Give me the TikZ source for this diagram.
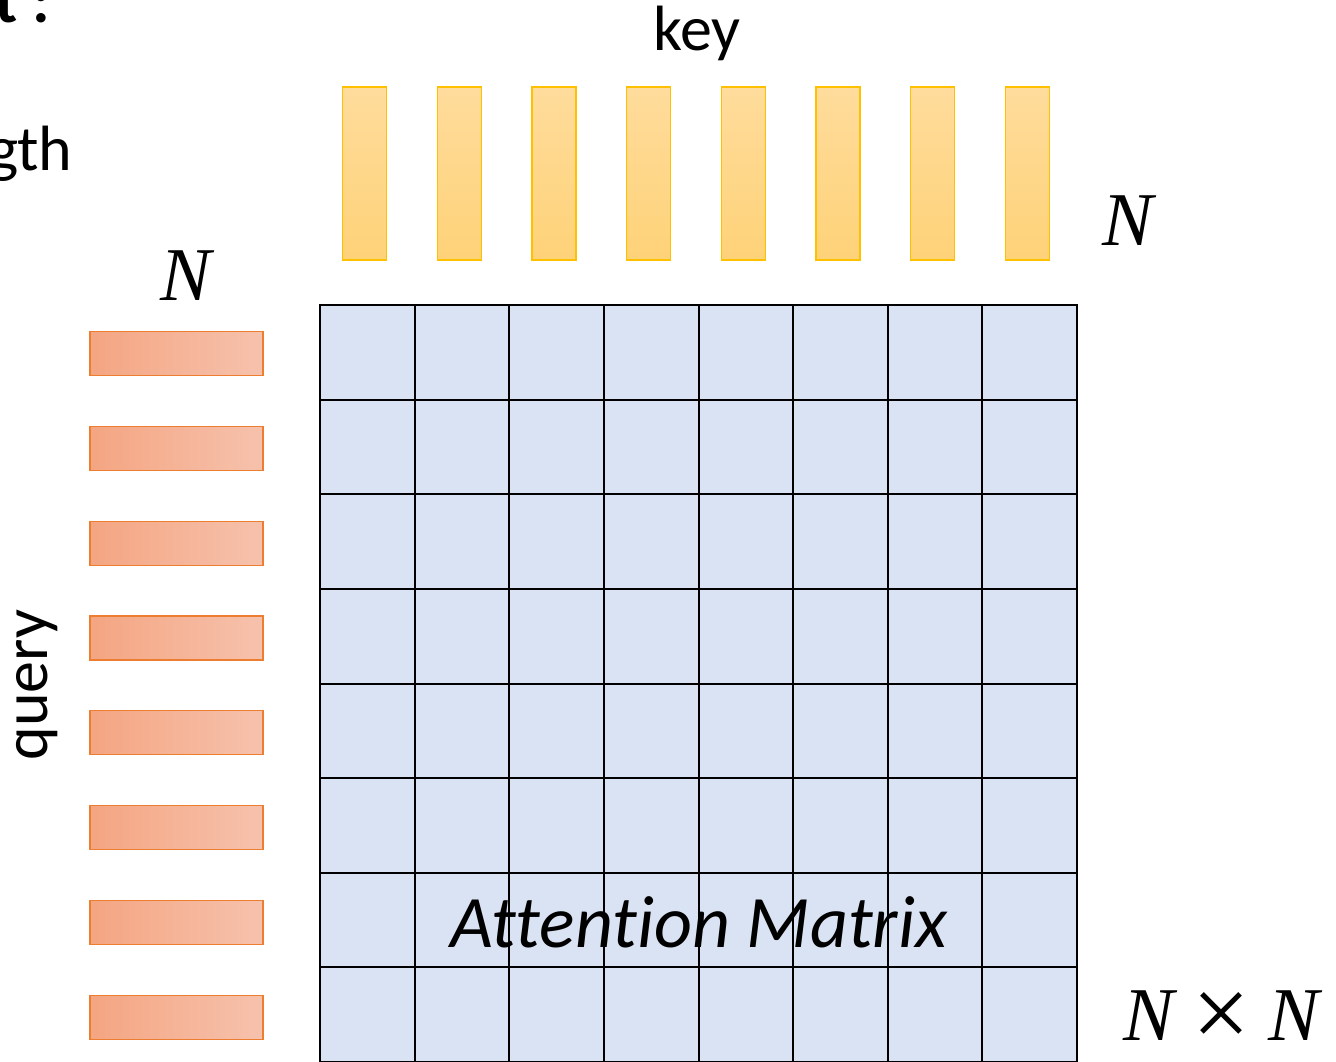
\documentclass[tikz,border=0pt]{standalone}
\usepackage{fontspec}
\setmainfont{Carlito}[Ligatures=NoCommon]
\newfontfamily\dimfont{Liberation Serif}
\newfontfamily\timesfont{Liberation Serif}[Scale=1.35]
\usetikzlibrary{positioning}

\definecolor{keyline}{RGB}{255,192,0}
\definecolor{keytop}{RGB}{255,220,156}
\definecolor{keybot}{RGB}{254,210,120}
\definecolor{qryline}{RGB}{237,125,49}
\definecolor{qryleft}{RGB}{244,165,130}
\definecolor{qryright}{RGB}{246,194,173}
\definecolor{cellblue}{RGB}{218,227,243}

\begin{document}
\begin{tikzpicture}[x=0.5pt,y=-0.5pt,
   keybar/.style={draw=keyline,line width=0.6pt,top color=keytop,bottom color=keybot,
                  minimum width=22pt,minimum height=86.5pt,inner sep=0pt},
   qrybar/.style={draw=qryline,line width=0.6pt,left color=qryleft,right color=qryright,
                  minimum width=86.5pt,minimum height=22pt,inner sep=0pt},
   lbl/.style={inner sep=0pt,font=\fontsize{32}{36}\selectfont},
   dim/.style={inner sep=0pt,font=\dimfont\itshape\fontsize{38}{40}\selectfont},
   gridline/.style={line width=1pt,black}
  ]
  \useasboundingbox (0,0) rectangle (1336,1061);

  % cut-off words at the left edge
  \node[lbl,anchor=base east,font=\bfseries\fontsize{32}{36}\selectfont] (inp) at (50,22) {Input :};
  \node[lbl,anchor=base east] (len) at (73,170) {length};

  % keys along the top
  \foreach \i in {1,...,8}
    \node[keybar] (k\i) at ({364.5+94.7*(\i-1)},173.5) {};
  \node[lbl,anchor=base] (key) at (697,50) {key};
  \node[dim,anchor=base] (nk) at (1128,245) {N};

  % queries down the left side
  \foreach \i in {1,...,8}
    \node[qrybar] (q\i) at (176.5,{353.5+94.8*(\i-1)}) {};
  \node[lbl,rotate=90] (query) at (37,685) {query};
  \node[dim,anchor=base] (nq) at (186,300) {N};

  % the N x N matrix
  \node[draw,gridline,fill=cellblue,minimum width=378.5pt,minimum height=378.5pt,
        inner sep=0pt] (attn) at (698.5,683.5) {};
  \foreach \i in {1,...,7} {
    \draw[gridline] ({320+94.625*\i},305) -- ({320+94.625*\i},1062);
    \draw[gridline] (320,{305+94.625*\i}) -- (1077,{305+94.625*\i});
  }
  \node[inner sep=0pt,anchor=base,font=\itshape\fontsize{37}{40}\selectfont] (name) at (699,947) {Attention Matrix};
  \node[dim,anchor=base] (nn) at (1221.5,1040)
    {N\hspace{9pt}\raisebox{-3.5pt}[0pt][0pt]{\timesfont\upshape\texttimes}\hspace{9pt}N};
\end{tikzpicture}
\end{document}
